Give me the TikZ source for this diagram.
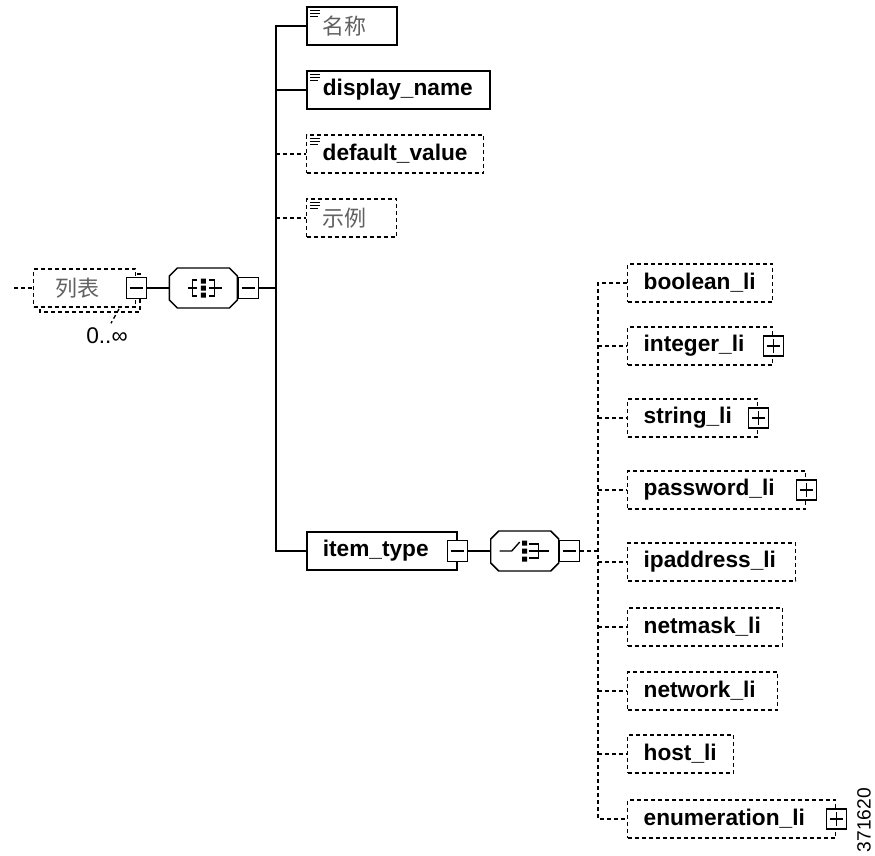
\documentclass[tikz,border=0pt]{standalone}
\usepackage{fontspec}
\setmainfont{Liberation Sans}
\newfontfamily\cjk{Noto Sans CJK SC}
\usetikzlibrary{positioning}

\tikzset{
  conn/.style={line width=1.1pt},
  dconn/.style={line width=1pt, dash pattern=on 3pt off 2.25pt},
  elbox/.style={draw, line width=1.3pt, fill=white, anchor=west, minimum height=28.5pt,
    inner xsep=12pt, inner ysep=0pt, align=left, font=\bfseries\fontsize{17}{20}\selectfont},
  optbox/.style={elbox, line width=1pt, dash pattern=on 3pt off 2.25pt},
  zhtext/.style={font=\cjk\fontsize{16.5}{20}\selectfont, text=black!62},
  octo/.style={minimum width=51pt, minimum height=30.5pt, inner sep=0pt},
  smallbox/.style={draw, line width=1.1pt, fill=white, minimum width=15pt, minimum height=15.5pt, inner sep=0pt},
  minusbox/.style={smallbox, path picture={
    \draw[line width=1pt] ([xshift=2.5pt]path picture bounding box.west) -- ([xshift=-2.5pt]path picture bounding box.east);}},
  plusbox/.style={smallbox, minimum height=15pt, path picture={
    \draw[line width=1pt] ([xshift=2.5pt]path picture bounding box.west) -- ([xshift=-2.5pt]path picture bounding box.east)
      ([yshift=-2.5pt]path picture bounding box.north) -- ([yshift=2.5pt]path picture bounding box.south);}},
}
\newcommand\elicon[1]{\draw[line width=0.8pt]
  ([shift={(4,4)}]#1.north west) -- ++(10,0)
  ([shift={(4,7)}]#1.north west) -- ++(10,0)
  ([shift={(4,10)}]#1.north west) -- ++(8,0);}
\newcommand\octoline[1]{\draw[line width=1.1pt, shift={(#1.center)}]
  (-26,-20) -- (26,-20) -- (34,-12) -- (34,12) -- (26,20) -- (-26,20) -- (-34,12) -- (-34,-12) -- cycle;}

\begin{document}
\begin{tikzpicture}[x=0.75pt, y=-0.75pt]
\useasboundingbox (0,0) rectangle (875,856);

% root element
\coordinate (in) at (14,288);
\draw[dconn, fill=white] (40,274) rectangle (140,312);
\node[optbox, zhtext, text width=52.5pt] (lst) at (33,288) {\hspace*{4.5pt}列表};
\node[minusbox] (lstm) at (lst.east) {};
\node[font=\fontsize{17}{20}\selectfont] (occ) at (107,336) {0..∞};
\coordinate (occtip) at (119,309);
\draw[dconn] (occtip) -- ([xshift=3pt]occ.north);
\draw[dconn] (in) -- (lst.west);

\node[octo, right=16.5pt of lstm] (seq) {};
\octoline{seq}
\node[minusbox, anchor=west] (seqm) at (seq.east) {};
\begin{scope}[shift={(seq.center)}, line width=1pt]
  \draw (-15,0) -- (-6,0) (-6,-8) -- (-11,-8) -- (-11,8) -- (-6,8);
  \draw (6,0) -- (19,0) (6,-8) -- (11,-8) -- (11,8) -- (6,8);
  \fill (-2.5,-9.5) rectangle (2.5,-4.5) (-2.5,-2.5) rectangle (2.5,2.5) (-2.5,4.5) rectangle (2.5,9.5);
\end{scope}
\coordinate (bus1) at (276,288);

% children of the sequence
\node[elbox, zhtext, text width=43.5pt] (nm) at (306,26) {名称};
\node[elbox, text width=113.25pt] (dn) at (306,90) {display\_name};
\node[optbox, text width=108.75pt] (dv) at (306,154) {default\_value};
\node[optbox, zhtext, text width=43.5pt] (ex) at (306,218) {示例};
\node[elbox, text width=88.5pt] (it) at (306,551) {item\_type};
\elicon{nm} \elicon{dn} \elicon{dv} \elicon{ex}

\draw[conn] (lstm.east) -- (seq.west);
\draw[conn] (seqm.east) -- (bus1);
\draw[conn] (nm.west) -- (nm.west -| bus1) -- (it.west -| bus1) -- (it.west);
\draw[conn] (dn.west -| bus1) -- (dn.west);
\draw[dconn] (dv.west -| bus1) -- (dv.west);
\draw[dconn] (ex.west -| bus1) -- (ex.west);

% choice of item types
\node[minusbox] (itm) at (it.east) {};
\node[octo, right=16.5pt of itm] (cho) {};
\octoline{cho}
\node[minusbox, anchor=west] (chom) at (cho.east) {};
\begin{scope}[shift={(cho.center)}, line width=1pt]
  \draw (-25,0) -- (-13,0) -- (-5,-9);
  \draw (4,0) -- (24,0) (4,-7) -- (14,-7) -- (14,7) -- (4,7);
  \fill (-2.5,-10.5) rectangle (2.5,-5.5) (-2.5,-2.5) rectangle (2.5,2.5) (-2.5,5.5) rectangle (2.5,10.5);
\end{scope}
\coordinate (bus2) at (598,551);
\draw[conn] (itm.east) -- (cho.west);
\draw[dconn] (chom.east) -- (bus2);

\node[optbox, text width=84.75pt] (bl) at (627,283) {boolean\_li};
\node[optbox, text width=84.75pt] (ig) at (627,346) {integer\_li};
\node[optbox, text width=73.5pt] (st) at (627,418) {string\_li};
\node[optbox, text width=109.5pt] (pw) at (627,490) {password\_li};
\node[optbox, text width=102pt] (ip) at (627,562) {ipaddress\_li};
\node[optbox, text width=92.25pt] (nk) at (627,627) {netmask\_li};
\node[optbox, text width=88.5pt] (nw) at (627,691) {network\_li};
\node[optbox, text width=55.5pt] (hs) at (627,754) {host\_li};
\node[optbox, text width=132pt] (en) at (627,819) {enumeration\_li};
\node[plusbox] (igp) at (ig.east) {};
\node[plusbox] (stp) at (st.east) {};
\node[plusbox] (pwp) at (pw.east) {};
\node[plusbox] (enp) at (en.east) {};

\draw[dconn] (bl.west) -- (bl.west -| bus2) -- (en.west -| bus2) -- (en.west);
\foreach \n in {ig,st,pw,ip,nk,nw,hs}
  \draw[dconn] (\n.west -| bus2) -- (\n.west);

\node[rotate=90, font=\fontsize{14.4}{16}\selectfont] (fig) at (864,820) {371620};
\end{tikzpicture}
\end{document}
